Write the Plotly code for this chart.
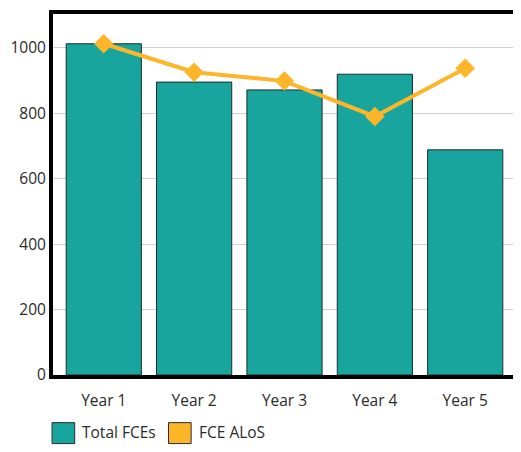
import plotly.graph_objects as go

# values
years = ['Year 1', 'Year 2', 'Year 3', 'Year 4', 'Year 5']
total_fces = [1012, 895, 871, 919, 688]
fce_alos = [1012, 925, 898, 790, 937]
y_ticks = [0, 200, 400, 600, 800, 1000]

teal = '#18a59e'
amber = '#fdb52a'
text_col = '#2b2b2b'

fig = go.Figure()

fig.add_trace(go.Bar(
    x=years,
    y=total_fces,
    name='Total FCEs',
    marker_color=teal,
    marker_line_color='#1c2b2b',
    marker_line_width=1,
    showlegend=False,
))

fig.add_trace(go.Scatter(
    x=years,
    y=fce_alos,
    name='FCE ALoS',
    mode='lines+markers',
    line=dict(color=amber, width=4),
    marker=dict(symbol='diamond', size=15, color=amber),
    showlegend=False,
))

# page body has an 8px margin, so the figure is sized to fit what is left
fig.update_layout(
    width=513,
    height=444,
    template='simple_white',
    font=dict(family='Open Sans', size=15.5, color=text_col),
    margin=dict(l=45, r=4, t=2, b=77),
    bargap=0.168,
    plot_bgcolor='white',
    paper_bgcolor='white',
)

fig.update_xaxes(
    range=[-0.562, 4.551],
    showline=True, linecolor='black', linewidth=4, mirror=True,
    ticks='outside', ticklen=8, tickcolor='rgba(0,0,0,0)',
)
fig.update_yaxes(
    range=[0, 1103],
    tickvals=y_ticks,
    showgrid=True, gridcolor='#d0d0d0', gridwidth=1,
    showline=True, linecolor='black', linewidth=4, mirror=True,
    ticks='', zeroline=False,
)

# hand-made legend with big square swatches
legend_items = [('Total FCEs', teal, -0.002), ('FCE ALoS', amber, 0.25)]
for label, col, x0 in legend_items:
    fig.add_shape(type='rect', xref='paper', yref='paper',
                  x0=x0, x1=x0 + 0.049, y0=-0.19, y1=-0.132,
                  fillcolor=col, opacity=1, layer='above',
                  line=dict(color=text_col, width=1))
    fig.add_annotation(text=label, xref='paper', yref='paper',
                       x=x0 + 0.0615, y=-0.159, xanchor='left', yanchor='middle',
                       showarrow=False, font=dict(size=15.5, color=text_col))

fig.write_html("out.html")
